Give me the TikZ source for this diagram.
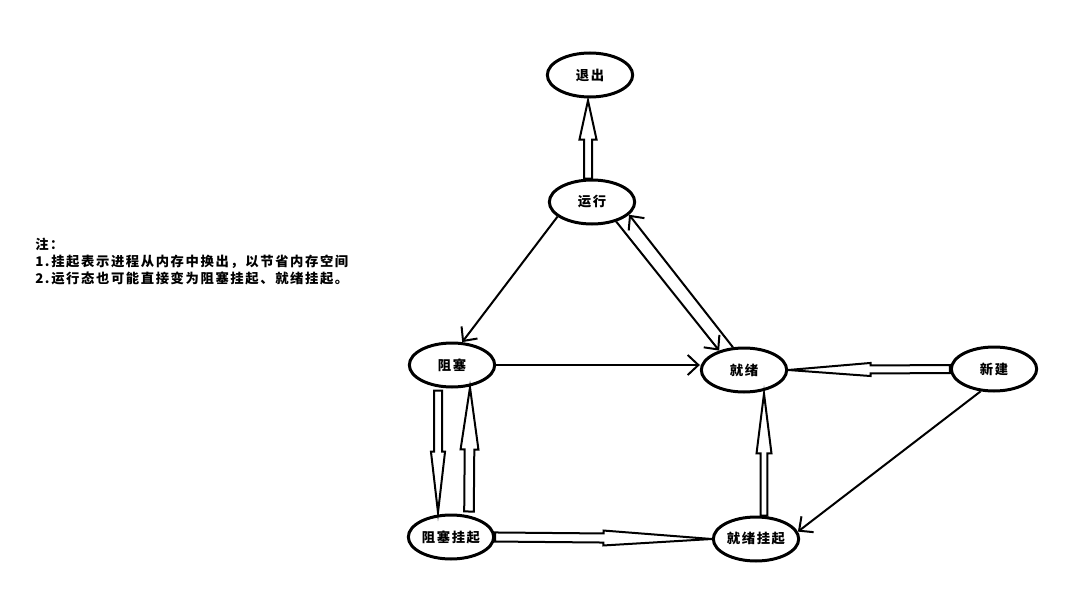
\documentclass[tikz,border=0pt]{standalone}
\usepackage{fontspec}
\newfontfamily\cjk[LetterSpace=12]{Noto Sans CJK SC}
\usepackage{tikz}
\usetikzlibrary{arrows.meta,shapes.geometric,calc}

% hollow block arrow: from, to, head position, shaft half width, head half width
\newcommand{\hollowarr}[5]{%
  \coordinate (ha-s) at (#1);
  \coordinate (ha-t) at (#2);
  \coordinate (ha-h) at ($(ha-s)!#3!(ha-t)$);
  \draw[hollow] ($(ha-s)!#4!90:(ha-t)$) -- ($(ha-h)!#4!90:(ha-t)$) -- ($(ha-h)!#5!90:(ha-t)$) -- (ha-t)
    -- ($(ha-h)!#5!-90:(ha-t)$) -- ($(ha-h)!#4!-90:(ha-t)$) -- ($(ha-s)!#4!-90:(ha-t)$) -- cycle;
}

\begin{document}
\begin{tikzpicture}[x=0.75pt,y=-0.75pt]
\tikzstyle{state} = [ellipse, draw, line width=2.25pt, minimum width=64pt, minimum height=33pt, inner sep=0pt, font=\cjk\bfseries\fontsize{10}{12}\selectfont]
\tikzstyle{pass} = [line width=1.5pt, -{Straight Barb[length=8pt,width=15pt]}]
\tikzstyle{hollow} = [draw, line width=1.5pt, fill=white, line join=miter]
\useasboundingbox (0,0) rectangle (1071,592);

\node[anchor=north west, align=left, inner sep=0pt, font=\cjk\bfseries\fontsize{10}{12.75}\selectfont] (note) at (35,238)
  {注：\\1.挂起表示进程从内存中换出，以节省内存空间\\2.运行态也可能直接变为阻塞挂起、就绪挂起。};

\node[state] (exit) at (590,75) {退出};
\node[state] (run) at (592,202) {运行};
\node[state] (block) at (452,365) {阻塞};
\node[state] (ready) at (744,370) {就绪};
\node[state] (new) at (994,369) {新建};
\node[state] (blocksus) at (451,537) {阻塞挂起};
\node[state] (readysus) at (756,539) {就绪挂起};

% plain transitions
\draw[pass] (run.203) -- (block.66);
\draw[pass] (run.321) -- (ready.142);
\draw[pass] (ready.116) -- (run.341);
\draw[pass] (block.east) -- (block.east -| ready.west);
\draw[pass] (new.239) -- (readysus.10);

% block arrows
\hollowarr{$(run.north)+(-4,0)$}{$(exit.south)+(-2,2)$}{0.5}{3pt}{6.4pt}
\hollowarr{$(block.south)+(-14,2)$}{$(blocksus.north)+(-13,-1)$}{0.5}{3pt}{5.3pt}
\hollowarr{$(blocksus.north)+(18,-2)$}{$(block.south)+(18,-1)$}{0.5}{3.6pt}{6.7pt}
\hollowarr{blocksus.east}{readysus.west}{0.5}{3.4pt}{5.6pt}
\hollowarr{$(readysus.north)+(8,0)$}{$(ready.south)+(20,0)$}{0.51}{2.6pt}{5.6pt}
\hollowarr{new.west}{ready.east}{0.49}{3pt}{4.9pt}
\end{tikzpicture}
\end{document}
